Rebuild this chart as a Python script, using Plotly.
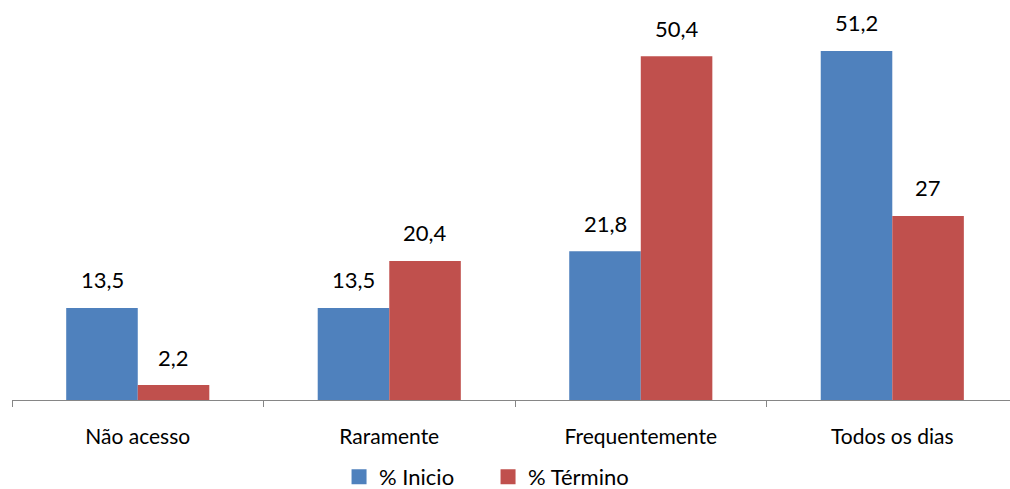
import plotly.graph_objects as go

categories = ["Não acesso", "Raramente", "Frequentemente", "Todos os dias"]
inicio = [13.5, 13.5, 21.8, 51.2]
termino = [2.2, 20.4, 50.4, 27]
series_names = ["% Inicio", "% Término"]
colors = ["#4F81BD", "#C0504D"]

FONT = "Lato"


def fmt(v):
    return f"{v:g}".replace(".", ",")


fig = go.Figure()
for name, vals, col in zip(series_names, [inicio, termino], colors):
    fig.add_trace(go.Bar(
        name=name, x=categories, y=vals, showlegend=False,
        marker=dict(color=col, line=dict(width=0)),
    ))

# legend entries with larger square swatches
for name, col in zip(series_names, colors):
    fig.add_trace(go.Scatter(
        name=name, x=[None], y=[None], mode="markers",
        marker=dict(symbol="square", size=15, color=col),
    ))

# value labels above each bar
bar_px = 71.5
for offset, vals in zip([-bar_px / 2, bar_px / 2], [inicio, termino]):
    for c, v in zip(categories, vals):
        fig.add_annotation(
            x=c, y=v, xref="x", yref="y", text=fmt(v), showarrow=False,
            xshift=offset, yshift=28, yanchor="middle",
            font=dict(family=FONT, size=22, color="#000000"),
        )

fig.update_layout(
    width=1010, height=489,
    margin=dict(l=12, r=0, t=10, b=89, autoexpand=False),
    paper_bgcolor="white", plot_bgcolor="white",
    barmode="group", bargap=0.431, bargroupgap=0,
    font=dict(family=FONT, size=21, color="#000000"),
    showlegend=True,
    legend=dict(
        orientation="h", x=0.477, xanchor="center", y=-0.197, yanchor="middle",
        font=dict(family=FONT, size=22), entrywidth=104, itemsizing="trace",
    ),
    xaxis=dict(
        range=[-0.5, 3.468],
        showline=True, linecolor="#868686", linewidth=1,
        ticks="outside", tickson="boundaries", ticklen=6, tickcolor="#868686",
        showgrid=False, ticklabelstandoff=18,
        tickfont=dict(family=FONT, size=21),
    ),
    yaxis=dict(
        range=[0, 57.2], visible=False, showgrid=False, zeroline=False,
    ),
)

fig.write_html("out.html")
